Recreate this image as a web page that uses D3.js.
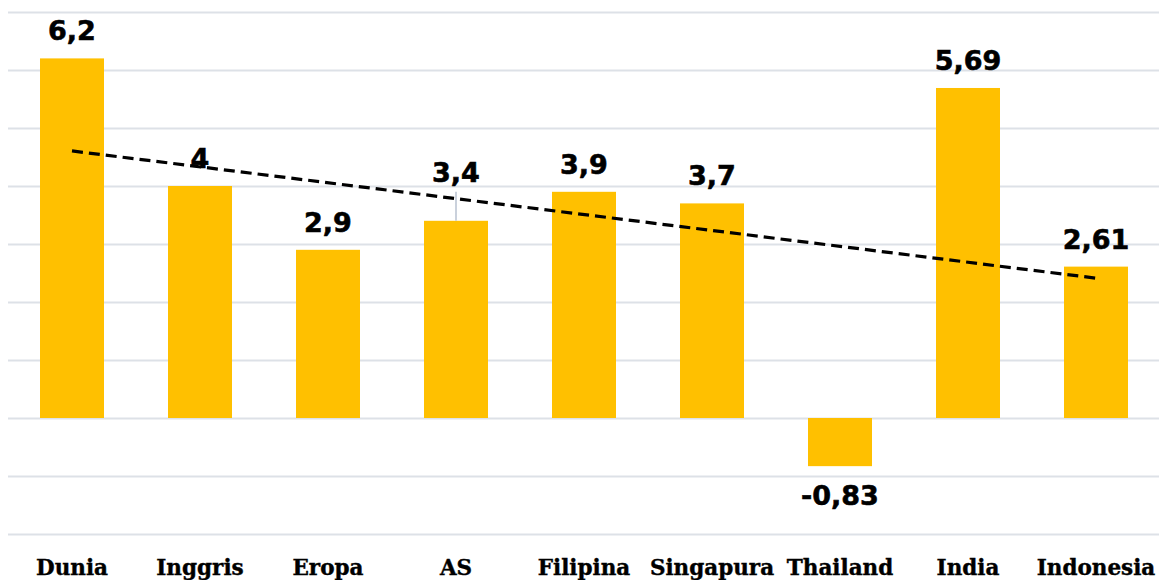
<!DOCTYPE html>
<html>
<head>
<meta charset="utf-8">
<script src="https://cdnjs.cloudflare.com/ajax/libs/d3/7.8.5/d3.min.js"></script>
<style>
  body { margin: 0; background: #fff; }
  svg { display: block; }
</style>
</head>
<body>
<svg id="chart" width="1161" height="580"></svg>
<script>
// data
var categories = ["Dunia", "Inggris", "Eropa", "AS", "Filipina", "Singapura", "Thailand", "India", "Indonesia"];
var values = [6.2, 4, 2.9, 3.4, 3.9, 3.7, -0.83, 5.69, 2.61];
var labels = ["6,2", "4", "2,9", "3,4", "3,9", "3,7", "-0,83", "5,69", "2,61"];
var yTicks = [-2, -1, 0, 1, 2, 3, 4, 5, 6, 7];

var svg = d3.select("#chart"),
    width = 1161,
    height = 580;

var x = d3.scaleBand()
  .domain(categories)
  .range([8, 1160])
  .paddingInner(0.5)
  .paddingOuter(0.25);

var y = d3.scaleLinear()
  .domain([-2, 7])
  .range([534, 12]);

// gridlines
svg.append("g")
  .selectAll("line")
  .data(yTicks)
  .enter().append("line")
  .attr("x1", 8)
  .attr("x2", 1159)
  .attr("y1", function(d) { return Math.round(y(d)) + 0.5; })
  .attr("y2", function(d) { return Math.round(y(d)) + 0.5; })
  .attr("stroke", "#dde1e7")
  .attr("stroke-width", 2);

// bars
svg.append("g")
  .selectAll("rect")
  .data(values)
  .enter().append("rect")
  .attr("x", function(d, i) { return x(categories[i]); })
  .attr("width", x.bandwidth())
  .attr("y", function(d) { return y(Math.max(0, d)); })
  .attr("height", function(d) { return Math.abs(y(d) - y(0)); })
  .attr("fill", "#ffc000");

// leader line for AS label (moved up)
var asIdx = categories.indexOf("AS");
svg.append("line")
  .attr("x1", x("AS") + x.bandwidth() / 2)
  .attr("x2", x("AS") + x.bandwidth() / 2)
  .attr("y1", y(values[asIdx]))
  .attr("y2", y(values[asIdx]) - 29)
  .attr("stroke", "#b8c2d0")
  .attr("stroke-width", 1.5);

// linear trendline (least squares over category index)
var n = values.length,
    mx = d3.mean(values, function(d, i) { return i + 1; }),
    my = d3.mean(values);
var sxy = d3.sum(values, function(d, i) { return (i + 1 - mx) * (d - my); }),
    sxx = d3.sum(values, function(d, i) { return (i + 1 - mx) * (i + 1 - mx); });
var slope = sxy / sxx, icpt = my - slope * mx;

var trend = [1, n].map(function(k) {
  return [x(categories[k - 1]) + x.bandwidth() / 2, y(icpt + slope * k)];
});
svg.append("path")
  .attr("d", d3.line()(trend))
  .attr("fill", "none")
  .attr("stroke", "#000")
  .attr("stroke-width", 3.2)
  .attr("stroke-dasharray", "11,6");

// data labels
svg.append("g")
  .selectAll("text")
  .data(values)
  .enter().append("text")
  .attr("x", function(d, i) { return x(categories[i]) + x.bandwidth() / 2; })
  .attr("y", function(d, i) {
    if (d < 0) return y(d) + 39;
    if (categories[i] === "AS") return y(d) - 39;
    return y(d) - 18;
  })
  .attr("text-anchor", "middle")
  .style("font-family", "'DejaVu Sans', Verdana, sans-serif")
  .style("font-weight", "bold")
  .style("font-size", "27px")
  .style("stroke", "#000")
  .style("stroke-width", 0.6)
  .attr("fill", "#000")
  .text(function(d, i) { return labels[i]; });

// x axis labels
svg.append("g")
  .selectAll("text")
  .data(categories)
  .enter().append("text")
  .attr("x", function(d) { return x(d) + x.bandwidth() / 2; })
  .attr("y", 575)
  .attr("text-anchor", "middle")
  .style("font-family", "'DejaVu Serif', serif")
  .style("font-weight", "bold")
  .style("font-size", "21.5px")
  .style("stroke", "#000")
  .style("stroke-width", 0.4)
  .attr("fill", "#000")
  .text(function(d) { return d; });
</script>
</body>
</html>
